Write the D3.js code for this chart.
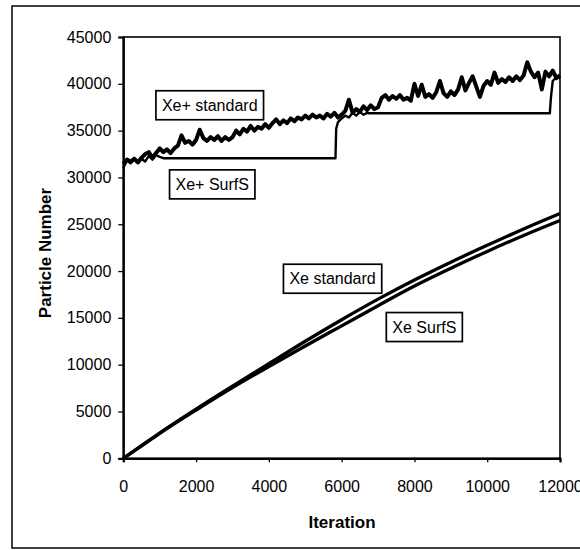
<!DOCTYPE html>
<html>
<head>
<meta charset="utf-8">
<script src="https://cdn.jsdelivr.net/npm/d3@7"></script>
<style>
  html, body { margin: 0; padding: 0; background: #fff; }
  svg { display: block; }
  text { font-family: "Liberation Sans", Arial, sans-serif; fill: #000; }
</style>
</head>
<body>
<svg id="chart" width="580" height="550"></svg>
<script>
// ---------------- data ----------------
const xTicks = [0, 2000, 4000, 6000, 8000, 10000, 12000];
const yTicks = [0, 5000, 10000, 15000, 20000, 25000, 30000, 35000, 40000, 45000];

// Xe+ standard (sampled every 100 iterations)
const xePlusStdIter = d3.range(0, 12001, 100);
const xePlusStdValues = [
  31400, 31900, 31700, 32000, 31600, 32100, 32500, 32700, 32100, 32600,
  33100, 32700, 33000, 32600, 33100, 33400, 34500, 33700, 33900, 33500,
  34000, 35100, 34200, 33900, 34300, 34000, 34400, 33900, 34300, 34000,
  34300, 35000, 34600, 35200, 34900, 35500, 35000, 35400, 35200, 35700,
  35300, 35800, 36200, 35700, 36100, 35800, 36300, 36000, 36400, 36200,
  36600, 36300, 36700, 36400, 36600, 36300, 36800, 36500, 36900, 36400,
  36700, 37100, 38300, 36900, 37300, 37000, 37600, 37200, 37700, 37300,
  37500, 38500, 38800, 38300, 38700, 38400, 38800, 38300, 38500, 38200,
  40000, 38700, 39900, 38600, 38900, 38500, 39100, 40300, 39000, 38600,
  39200, 38800, 39400, 40700, 39300, 40100, 40800, 39700, 38600, 39800,
  40300, 39900, 41200, 40100, 40500, 40200, 40700, 40300, 40800, 40400,
  40900, 42300, 41300, 40700, 41200, 39400, 41300, 40800, 41400, 40600,
  40900
];

// Xe+ SurfS
const xePlusSurfIter = [0, 100, 200, 300, 400, 500, 600, 700, 800, 900, 1000, 1100, 5830, 5850, 5900, 6000, 6100, 6200, 6300, 6400, 6500, 6600, 6700, 6750, 11720, 11750, 11800, 11900, 12000];
const xePlusSurfValues = [31000, 31800, 31500, 31900, 31600, 32000, 31700, 32300, 31900, 32400, 32200, 32050, 32050, 35200, 35900, 36300, 36600, 36400, 36900, 36600, 37000, 36700, 36900, 36850, 36850, 38500, 40300, 40700, 40600];

// Xe standard / Xe SurfS
const xeIter = [0, 500, 1000, 2000, 3000, 4000, 5000, 6000, 7000, 8000, 9000, 10000, 11000, 12000];
const xeStdValues = [0, 1350, 2700, 5250, 7700, 10100, 12500, 14800, 17000, 19050, 20950, 22750, 24500, 26150];
const xeSurfValues = [0, 1320, 2650, 5150, 7550, 9800, 12000, 14150, 16300, 18400, 20300, 22100, 23800, 25400];

// annotation labels (anchored in data space: iteration, particle number)
const labelTexts = ["Xe+ standard", "Xe+ SurfS", "Xe standard", "Xe SurfS"];
const labelIter = [2375, 2444, 5751, 8272];
const labelValue = [37710, 29260, 19180, 14020];

// ---------------- drawing ----------------
const svg = d3.select("#chart");

// outer frame
svg.append("rect")
  .attr("x", 12).attr("y", 6).attr("width", 600).attr("height", 542)
  .attr("fill", "none").attr("stroke", "#000").attr("stroke-width", 1.5);

const x = d3.scaleLinear().domain([0, 12000]).range([123.3, 560]);
const y = d3.scaleLinear().domain([0, 45000]).range([458.3, 37]);

// plot border
svg.append("rect")
  .attr("x", x(0)).attr("y", y(45000))
  .attr("width", x(12000) - x(0)).attr("height", y(0) - y(45000))
  .attr("fill", "none").attr("stroke", "#000").attr("stroke-width", 1.6);

// axes
const yAxis = d3.axisLeft(y).tickValues(yTicks).tickSize(5).tickPadding(7).tickFormat(d3.format("d"));
const gy = svg.append("g").attr("transform", `translate(${x(0)},0)`).call(yAxis);
gy.select(".domain").attr("stroke-width", 2.2);
gy.selectAll(".tick line").attr("stroke-width", 1.3);
gy.selectAll("text").attr("font-size", 16).attr("font-family", '"Liberation Sans", Arial, sans-serif');

const xAxis = d3.axisBottom(x).tickValues(xTicks).tickSize(4).tickPadding(18).tickFormat(d3.format("d"));
const gx = svg.append("g").attr("transform", `translate(0,${y(0)})`).call(xAxis);
gx.select(".domain").attr("stroke-width", 2.2);
gx.selectAll(".tick line").attr("stroke-width", 1.3);
gx.selectAll("text").attr("font-size", 16).attr("font-family", '"Liberation Sans", Arial, sans-serif');

// axis titles
svg.append("text")
  .attr("x", 342).attr("y", 522)
  .attr("text-anchor", "middle").attr("dominant-baseline", "central")
  .attr("font-size", 17).attr("font-weight", "bold")
  .text("Iteration");
svg.append("text")
  .attr("transform", "translate(45,253) rotate(-90)")
  .attr("text-anchor", "middle").attr("dominant-baseline", "central")
  .attr("font-size", 17).attr("font-weight", "bold")
  .text("Particle Number");

// lines
const plot = svg.append("g");
const lineLinear = d3.line().x(d => x(d[0])).y(d => y(d[1]));
const lineSmooth = d3.line().x(d => x(d[0])).y(d => y(d[1])).curve(d3.curveMonotoneX);

plot.append("path")
  .datum(xeIter.map((t, i) => [t, xeSurfValues[i]]))
  .attr("d", lineSmooth).attr("fill", "none").attr("stroke", "#000").attr("stroke-width", 3.3);
plot.append("path")
  .datum(xeIter.map((t, i) => [t, xeStdValues[i]]))
  .attr("d", lineSmooth).attr("fill", "none").attr("stroke", "#000").attr("stroke-width", 3.3);

plot.append("path")
  .datum(xePlusSurfIter.map((t, i) => [t, xePlusSurfValues[i]]))
  .attr("d", lineLinear).attr("fill", "none").attr("stroke", "#000").attr("stroke-width", 2.4)
  .attr("stroke-linejoin", "round");
plot.append("path")
  .datum(xePlusStdIter.map((t, i) => [t, xePlusStdValues[i]]))
  .attr("d", lineLinear).attr("fill", "none").attr("stroke", "#000").attr("stroke-width", 4)
  .attr("stroke-linejoin", "round");

// annotation boxes
labelTexts.forEach((txt, i) => {
  const g = svg.append("g").attr("transform", `translate(${x(labelIter[i])},${y(labelValue[i])})`);
  const rect = g.append("rect").attr("fill", "#fff").attr("stroke", "#000").attr("stroke-width", 1.7);
  const t = g.append("text")
    .attr("text-anchor", "middle").attr("dominant-baseline", "central")
    .attr("font-size", 16).text(txt);
  const bb = t.node().getBBox();
  const padX = 6, h = 29;
  rect.attr("x", -bb.width / 2 - padX).attr("y", -h / 2)
      .attr("width", bb.width + 2 * padX).attr("height", h);
});
</script>
</body>
</html>
